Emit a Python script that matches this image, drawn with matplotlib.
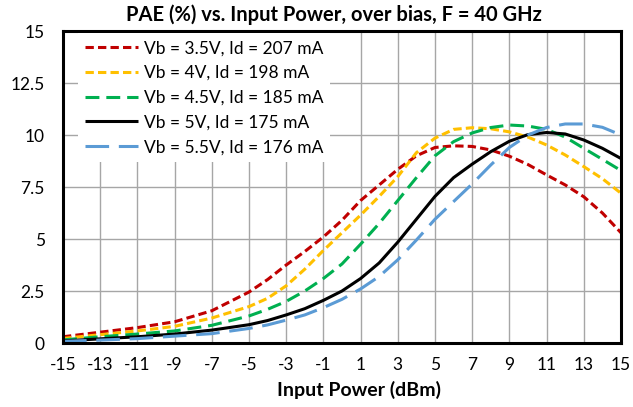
import matplotlib.pyplot as plt

# Input power (dBm)
pin = [-15, -13, -11, -9, -7, -5, -4, -3, -2, -1, 0, 1, 2, 3, 4, 5,
       6, 7, 8, 9, 10, 11, 12, 13, 14, 15]

# PAE (%) per bias point
pae_35 = [0.3, 0.52, 0.74, 1.02, 1.55, 2.45, 3.05, 3.75, 4.4, 5.1, 5.9, 6.85, 7.6,
          8.35, 9.0, 9.4, 9.48, 9.45, 9.28, 8.98, 8.58, 8.08, 7.6, 7.03, 6.25, 5.3]
pae_40 = [0.22, 0.4, 0.58, 0.8, 1.2, 1.75, 2.15, 2.75, 3.55, 4.45, 5.3, 6.15, 7.05,
          8.0, 9.15, 9.85, 10.27, 10.35, 10.3, 10.15, 9.9, 9.52, 9.04, 8.48, 7.9, 7.2]
pae_45 = [0.15, 0.3, 0.43, 0.58, 0.85, 1.3, 1.62, 2.0, 2.5, 3.1, 3.8, 4.75, 5.75,
          6.85, 7.95, 9.0, 9.68, 10.1, 10.36, 10.48, 10.43, 10.27, 9.9, 9.36, 8.83, 8.29]
pae_50 = [0.1, 0.2, 0.3, 0.43, 0.62, 0.88, 1.08, 1.35, 1.65, 2.05, 2.5, 3.1, 3.85,
          4.85, 5.95, 7.05, 7.95, 8.6, 9.2, 9.7, 10.02, 10.12, 10.05, 9.76, 9.36, 8.87]
pae_55 = [0.08, 0.14, 0.21, 0.33, 0.45, 0.7, 0.87, 1.1, 1.35, 1.7, 2.1, 2.6, 3.2,
          4.0, 4.95, 5.95, 6.8, 7.65, 8.56, 9.4, 10.0, 10.36, 10.53, 10.53, 10.37, 10.0]

labels = ["Vb = 3.5V, Id = 207 mA", "Vb = 4V, Id = 198 mA", "Vb = 4.5V, Id = 185 mA",
          "Vb = 5V, Id = 175 mA", "Vb = 5.5V, Id = 176 mA"]
xticks = list(range(-15, 16, 2))
yticks = [0, 2.5, 5, 7.5, 10, 12.5, 15]

plt.rcParams['font.family'] = ['Lato', 'DejaVu Sans']
plt.rcParams['lines.scale_dashes'] = False

fig = plt.figure(figsize=(6.33, 4.07), dpi=100)
ax = fig.add_axes([63 / 633, 1 - 343 / 407, 558 / 633, 312 / 407])

styles = [
    ("#C00000", (0, (6, 3))),
    ("#FFC000", (0, (6, 3))),
    ("#00B050", (0, (10, 5))),
    ("#000000", "-"),
    ("#5B9BD5", (0, (17, 7))),
]
series = [pae_35, pae_40, pae_45, pae_50, pae_55]
for vals, lab, (col, ls) in zip(series, labels, styles):
    ax.plot(pin, vals, color=col, linestyle=ls, linewidth=2.2, label=lab,
            solid_capstyle='butt', dash_capstyle='butt')

ax.set_xlim(-15, 15)
ax.set_ylim(0, 15)
ax.set_xticks(xticks)
ax.set_xticklabels([str(t) for t in xticks])
ax.set_yticks(yticks)
ax.set_yticklabels(["0", "2.5", "5", "7.5", "10", "12.5", "15"])
ax.tick_params(length=0, labelsize=12.5)
ax.tick_params(axis='x', pad=10)
ax.tick_params(axis='y', pad=13)
ax.grid(True, color="#A6A6A6", linewidth=1)
ax.set_axisbelow(True)
for sp in ax.spines.values():
    sp.set_linewidth(2.2)
    sp.set_color("black")

ax.set_xlabel("Input Power (dBm)", fontsize=14, fontweight='bold')
ax.xaxis.set_label_coords((359 - 63) / 558, -38 / 312)
fig.text(334 / 633, 1 - 15 / 407, "PAE (%) vs. Input Power, over bias, F = 40 GHz",
         ha='center', va='center', fontsize=14.5, fontweight='bold')

leg = ax.legend(loc='upper left', bbox_to_anchor=(0.027, 0.992), fontsize=12.5,
                frameon=True, facecolor='white', edgecolor='none', framealpha=1,
                fancybox=False, handlelength=3.05, handletextpad=0.35,
                labelspacing=0.5, borderaxespad=0, borderpad=0.4)

fig.savefig("out.png", dpi=100)
